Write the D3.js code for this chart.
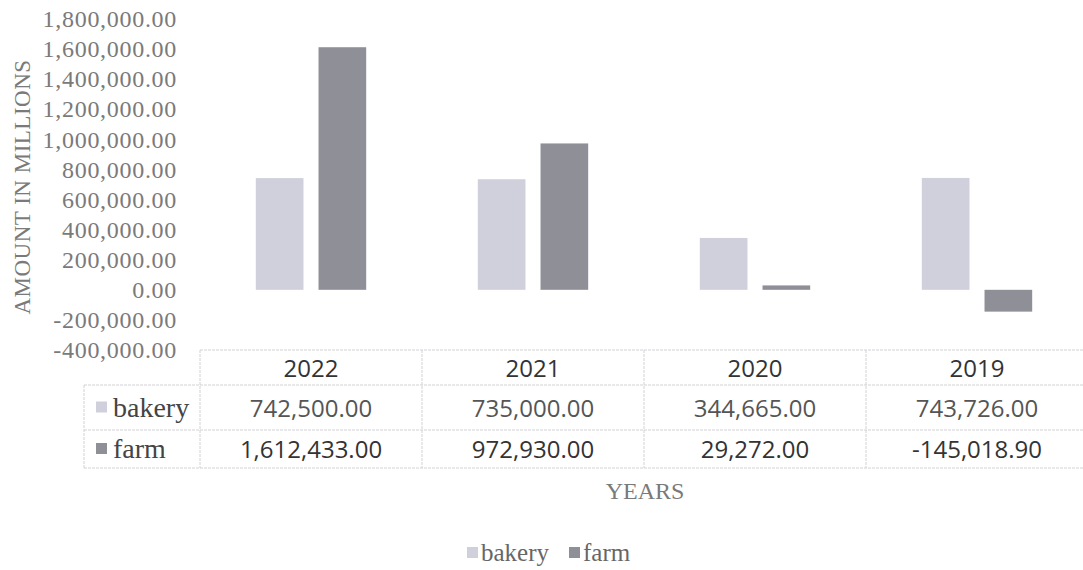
<!DOCTYPE html>
<html>
<head>
<meta charset="utf-8">
<script src="https://cdn.jsdelivr.net/npm/d3@7"></script>
<style>
  body { margin: 0; background: #fff; }
  .tick text { font-family: "Liberation Serif", serif; }
</style>
</head>
<body>
<svg id="chart" width="1083" height="570"></svg>
<script>
// data
const years = ["2022", "2021", "2020", "2019"];
const series = ["bakery", "farm"];
const bakery = [742500.00, 735000.00, 344665.00, 743726.00];
const farm = [1612433.00, 972930.00, 29272.00, -145018.90];
const yTicks = [-400000, -200000, 0, 200000, 400000, 600000, 800000, 1000000, 1200000, 1400000, 1600000, 1800000];

const values = { bakery, farm };
const colours = d3.scaleOrdinal().domain(series).range(["#cfd0dc", "#8f8f98"]);
// excel style: plain hyphen for negatives
const fmt = v => d3.format(",.2f")(v).replace("\u2212", "-");

const svg = d3.select("#chart");

// scales
const yScale = d3.scaleLinear().domain([-400000, 1800000]).range([350, 19]);
const x0 = d3.scaleBand().domain(years).range([200, 1088]);
const x1 = d3.scaleBand().domain(series).range([0, x0.bandwidth()])
  .paddingInner(0.24).paddingOuter(0.89);

// y axis (no line, no ticks, only labels)
const yAxis = svg.append("g")
  .attr("transform", "translate(180,0)")
  .call(d3.axisLeft(yScale).tickValues(yTicks).tickFormat(fmt).tickSize(0).tickPadding(3));
yAxis.select(".domain").remove();
yAxis.selectAll("text")
  .attr("fill", "#7a7a7a")
  .style("font-size", "24px")
  .style("letter-spacing", "0.7px");

svg.append("text")
  .attr("transform", "translate(30,187) rotate(-90)")
  .attr("text-anchor", "middle")
  .attr("fill", "#7a7a7a")
  .style("font-family", "Liberation Serif, serif")
  .style("font-size", "23px")
  .style("letter-spacing", "0.5px")
  .text("AMOUNT IN MILLIONS");

// bars
const rows = years.map((y, i) => ({ year: y, bakery: bakery[i], farm: farm[i] }));
svg.append("g")
  .selectAll("g")
  .data(rows)
  .join("g")
    .attr("transform", d => `translate(${x0(d.year)},0)`)
  .selectAll("rect")
  .data(d => series.map(k => ({ key: k, value: d[k] })))
  .join("rect")
    .attr("x", d => x1(d.key))
    .attr("width", x1.bandwidth())
    .attr("y", d => yScale(Math.max(0, d.value)))
    .attr("height", d => Math.abs(yScale(d.value) - yScale(0)))
    .attr("fill", d => colours(d.key));

// data table
const grid = "#d2d2d8";
const tTop = 350, rowH = [35, 45, 38];
const tableG = svg.append("g");
const rowY = [tTop, tTop + rowH[0], tTop + rowH[0] + rowH[1], tTop + rowH[0] + rowH[1] + rowH[2]];
const line = (x1_, y1_, x2_, y2_) => tableG.append("line")
  .attr("x1", x1_).attr("y1", y1_).attr("x2", x2_).attr("y2", y2_)
  .attr("stroke", grid).attr("stroke-width", 1).attr("stroke-dasharray", "3,1");

line(200, rowY[0], 1083, rowY[0]);
line(84, rowY[1], 1083, rowY[1]);
line(84, rowY[2], 1083, rowY[2]);
line(84, rowY[3], 1083, rowY[3]);
line(84, rowY[1], 84, rowY[3]);
years.forEach(y => line(x0(y), rowY[0], x0(y), rowY[3]));

// header
tableG.selectAll(".yr")
  .data(years)
  .join("text")
    .attr("x", d => x0(d) + x0.bandwidth() / 2)
    .attr("y", rowY[0] + rowH[0] / 2 + 9)
    .attr("text-anchor", "middle")
    .attr("fill", "#333")
    .style("font-family", "Open Sans, sans-serif")
    .style("font-size", "24px")
    .text(d => d);

series.forEach((s, si) => {
  const cy = rowY[si + 1] + rowH[si + 1] / 2;
  tableG.append("rect")
    .attr("x", 96).attr("y", cy - 6).attr("width", 11).attr("height", 11)
    .attr("fill", colours(s));
  tableG.append("text")
    .attr("x", 113).attr("y", cy + 9)
    .attr("fill", "#444")
    .style("font-family", "Liberation Serif, serif")
    .style("font-size", "28px")
    .text(s);
  tableG.selectAll(".v" + s)
    .data(values[s])
    .join("text")
      .attr("x", (d, i) => x0(years[i]) + x0.bandwidth() / 2)
      .attr("y", cy + 9)
      .attr("text-anchor", "middle")
      .attr("fill", si === 0 ? "#555" : "#333")
      .style("font-family", "Open Sans, sans-serif")
      .style("font-size", "24px")
      .text(d => fmt(d));
});

// x axis title
svg.append("text")
  .attr("x", 645).attr("y", 499)
  .attr("text-anchor", "middle")
  .attr("fill", "#7a7a7a")
  .style("font-family", "Liberation Serif, serif")
  .style("font-size", "24px")
  .text("YEARS");

// legend
const legend = svg.append("g").attr("transform", "translate(467,561)");
const legX = [0, 102];
series.forEach((s, i) => {
  legend.append("rect")
    .attr("x", legX[i]).attr("y", -14).attr("width", 11).attr("height", 11)
    .attr("fill", colours(s));
  legend.append("text")
    .attr("x", legX[i] + 14).attr("y", 0)
    .attr("fill", "#666")
    .style("font-family", "Liberation Serif, serif")
    .style("font-size", "25px")
    .text(s);
});
</script>
</body>
</html>
